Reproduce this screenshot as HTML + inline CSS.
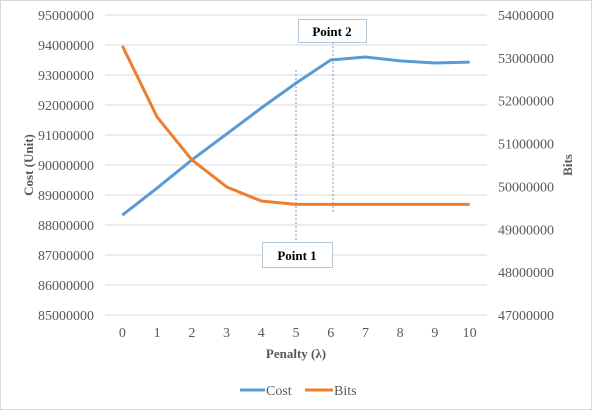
<!DOCTYPE html>
<html><head><meta charset="utf-8"><style>
body{margin:0;background:#fff}
svg text{font-family:"Liberation Serif",serif}
</style></head><body>
<svg width="592" height="410" xmlns="http://www.w3.org/2000/svg">
<rect x="0.5" y="0.5" width="591" height="409" fill="#fff" stroke="#d9d9d9"/>
<g id="grid"></g><g id="ticks"></g><g id="series"></g>
<text x="0" y="0" transform="translate(33,165) rotate(-90)" text-anchor="middle" font-size="13" font-weight="bold" fill="#595959">Cost (Unit)</text>
<text x="0" y="0" transform="translate(572,165) rotate(-90)" text-anchor="middle" font-size="13" font-weight="bold" fill="#595959">Bits</text>
<text x="296" y="358" text-anchor="middle" font-size="13" font-weight="bold" fill="#595959">Penalty (λ)</text>
<line x1="296" y1="70" x2="296" y2="242" stroke="#5b7fa3" stroke-width="0.8" stroke-dasharray="2,2"/>
<line x1="333" y1="42" x2="333" y2="214" stroke="#5b7fa3" stroke-width="0.8" stroke-dasharray="2,2"/>
<g><rect x="262.5" y="242.5" width="70" height="25" fill="#fff" stroke="#b4c7d9"/><text x="297" y="260" text-anchor="middle" font-size="13" font-weight="bold" fill="#000">Point 1</text></g>
<g><rect x="298.5" y="19.5" width="68" height="23" fill="#fff" stroke="#b4c7d9"/><text x="332" y="36" text-anchor="middle" font-size="13" font-weight="bold" fill="#000">Point 2</text></g>
<g>
<line x1="240" y1="390" x2="265" y2="390" stroke="#5b9bd5" stroke-width="3"/>
<text x="266" y="395" font-size="14" fill="#595959">Cost</text>
<line x1="305" y1="390" x2="333" y2="390" stroke="#ed7d31" stroke-width="3"/>
<text x="334" y="395" font-size="14" fill="#595959">Bits</text>
</g>
</svg>
<script>
const categories=[0,1,2,3,4,5,6,7,8,9,10];
const costValues=[88330000,89230000,90170000,91030000,91900000,92730000,93500000,93600000,93470000,93400000,93430000];
const bitsValues=[53280000,51620000,50620000,49990000,49660000,49580000,49580000,49580000,49580000,49580000,49580000];
const leftTicks=[85000000,86000000,87000000,88000000,89000000,90000000,91000000,92000000,93000000,94000000,95000000];
const rightTicks=[47000000,48000000,49000000,50000000,51000000,52000000,53000000,54000000];
const NS="http://www.w3.org/2000/svg";
const X0=105,X1=487,TOP=15,BOT=315;
const xS=i=>X0+(X1-X0)/categories.length*(i+0.5);
const yL=v=>BOT-(v-85000000)/10000000*(BOT-TOP);
const yR=v=>BOT-(v-47000000)/7000000*(BOT-TOP);
function mk(tag,attrs,parent){const e=document.createElementNS(NS,tag);for(const k in attrs)e.setAttribute(k,attrs[k]);parent.appendChild(e);return e;}
const grid=document.getElementById('grid'),ticks=document.getElementById('ticks'),series=document.getElementById('series');
leftTicks.forEach(v=>{
 const l=mk('line',{x1:X0,x2:X1,y1:yL(v),y2:yL(v),stroke:'#d9d9d9'},grid);
 
 
 const t=mk('text',{x:94,y:yL(v)+5,'text-anchor':'end','font-size':'14',fill:'#595959'},ticks);
 t.textContent=v;
 
 
});
rightTicks.forEach(v=>{
 const t=mk('text',{x:498,y:yR(v)+5,'font-size':'14',fill:'#595959'},ticks);
 t.textContent=v;
 
 
});
categories.forEach((c,i)=>{
 const t=mk('text',{x:xS(i),y:337,'text-anchor':'middle','font-size':'14',fill:'#595959'},ticks);
 t.textContent=c;
 
 
});
const pc=mk('polyline',{points:costValues.map((v,i)=>xS(i)+','+yL(v)).join(' '),fill:'none',stroke:'#5b9bd5','stroke-width':3,'stroke-linejoin':'round'},series);


const pb=mk('polyline',{points:bitsValues.map((v,i)=>xS(i)+','+yR(v)).join(' '),fill:'none',stroke:'#ed7d31','stroke-width':3,'stroke-linejoin':'round'},series);


</script>
</body></html>
